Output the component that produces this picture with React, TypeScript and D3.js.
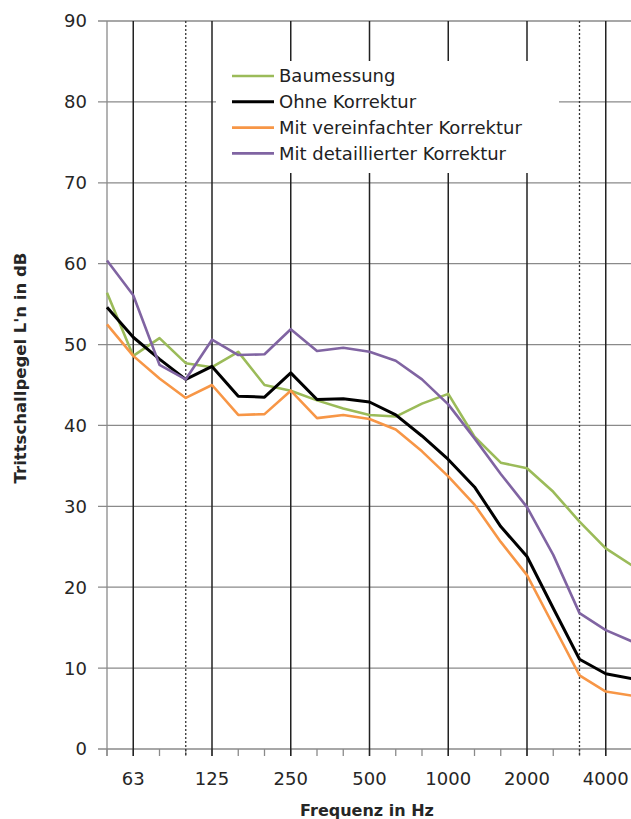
import React, { useEffect, useRef } from 'react';
import * as d3 from 'd3';

// third-octave bands
const freqs = ['50', '63', '80', '100', '125', '160', '200', '250', '315', '400', '500',
    '630', '800', '1000', '1250', '1600', '2000', '2500', '3150', '4000', '5000'];
const labelFreqs = ['63', '125', '250', '500', '1000', '2000', '4000'];
const dottedFreqs = ['100', '3150'];
const yTicks = [0, 10, 20, 30, 40, 50, 60, 70, 80, 90];

const baumessung = [56.4, 48.6, 50.8, 47.7, 47.2, 49.1, 45.0, 44.3, 43.1, 42.1, 41.3,
    41.1, 42.7, 43.9, 38.6, 35.4, 34.7, 31.8, 28.1, 24.8, 22.7];
const ohneKorrektur = [54.6, 50.9, 48.2, 45.7, 47.3, 43.6, 43.5, 46.5, 43.2, 43.3, 42.9,
    41.3, 38.7, 35.8, 32.4, 27.5, 23.8, 17.4, 11.1, 9.3, 8.7];
const vereinfacht = [52.5, 48.6, 45.8, 43.4, 45.0, 41.3, 41.4, 44.3, 40.9, 41.3, 40.8,
    39.5, 36.8, 33.7, 30.2, 25.6, 21.5, 15.3, 9.1, 7.1, 6.6];
const detailliert = [60.4, 56.1, 47.5, 45.7, 50.6, 48.7, 48.8, 51.9, 49.2, 49.6, 49.1,
    48.0, 45.7, 42.6, 38.4, 34.0, 29.9, 24.0, 16.8, 14.7, 13.3];

const seriesNames = ['Baumessung', 'Ohne Korrektur', 'Mit vereinfachter Korrektur', 'Mit detaillierter Korrektur'];
const seriesValues = [baumessung, ohneKorrektur, vereinfacht, detailliert];
const seriesColors = ['#9bbb59', '#000000', '#f79646', '#8064a2'];

const font = '"DejaVu Sans", sans-serif';

const App = () => {
    const svgRef = useRef<SVGSVGElement>(null);

    useEffect(() => {
        const svgWidth = 631;
        const svgHeight = 819;
        const left = 107, right = 632, top = 21, bottom = 749;

        const svg = d3.select(svgRef.current)
            .attr('width', svgWidth)
            .attr('height', svgHeight);
        svg.selectAll('*').remove();

        const x = d3.scalePoint<string>().domain(freqs).range([left, right]);
        const y = d3.scaleLinear().domain([0, 90]).range([bottom, top]);

        // horizontal gridlines + y ticks
        svg.append('g').selectAll('line')
            .data(yTicks)
            .enter()
            .append('line')
            .attr('x1', left - 9)
            .attr('x2', svgWidth)
            .attr('y1', d => y(d))
            .attr('y2', d => y(d))
            .attr('stroke', '#8a8a8a')
            .attr('stroke-width', 1.3);

        // bottom ticks
        svg.append('g').selectAll('line')
            .data(freqs)
            .enter()
            .append('line')
            .attr('x1', d => x(d)!)
            .attr('x2', d => x(d)!)
            .attr('y1', bottom)
            .attr('y2', bottom + 7)
            .attr('stroke', '#8a8a8a')
            .attr('stroke-width', 1.3);

        // left axis line
        svg.append('line')
            .attr('x1', left).attr('x2', left)
            .attr('y1', top).attr('y2', bottom + 7)
            .attr('stroke', '#8a8a8a')
            .attr('stroke-width', 1.3);

        // octave lines
        svg.append('g').selectAll('line')
            .data(labelFreqs)
            .enter()
            .append('line')
            .attr('x1', d => x(d)!)
            .attr('x2', d => x(d)!)
            .attr('y1', top)
            .attr('y2', bottom + 7)
            .attr('stroke', '#222')
            .attr('stroke-width', 1.5);

        svg.append('g').selectAll('line')
            .data(dottedFreqs)
            .enter()
            .append('line')
            .attr('x1', d => x(d)!)
            .attr('x2', d => x(d)!)
            .attr('y1', top)
            .attr('y2', bottom + 7)
            .attr('stroke', '#333')
            .attr('stroke-width', 1.3)
            .attr('stroke-dasharray', '2,2');

        // legend background hides gridlines
        svg.append('rect')
            .attr('x', 216).attr('y', 61)
            .attr('width', 343).attr('height', 112)
            .attr('fill', '#fff');

        // series
        const line = d3.line<number>()
            .x((_, i) => x(freqs[i])!)
            .y(d => y(d));

        svg.append('g').selectAll('path')
            .data(seriesValues)
            .enter()
            .append('path')
            .attr('d', d => line(d))
            .attr('fill', 'none')
            .attr('stroke', (_, i) => seriesColors[i])
            .attr('stroke-width', (_, i) => (i === 1 ? 3 : 2.6))
            .attr('stroke-linejoin', 'round');

        // legend
        const legend = svg.append('g').selectAll('g')
            .data(seriesNames)
            .enter()
            .append('g')
            .attr('transform', (_, i) => `translate(232, ${76 + i * 25.8})`);
        legend.append('line')
            .attr('x1', 0).attr('x2', 42)
            .attr('stroke', (_, i) => seriesColors[i])
            .attr('stroke-width', (_, i) => (i === 1 ? 3 : 2.6));
        legend.append('text')
            .attr('x', 47)
            .attr('dy', '0.36em')
            .attr('font-family', font)
            .attr('font-size', 18)
            .attr('fill', '#222')
            .text(d => d);

        // y labels
        svg.append('g').selectAll('text')
            .data(yTicks)
            .enter()
            .append('text')
            .attr('x', 87)
            .attr('y', d => y(d))
            .attr('dy', '0.36em')
            .attr('text-anchor', 'end')
            .attr('font-family', font)
            .attr('font-size', 18)
            .attr('fill', '#262626')
            .text(d => d);

        // x labels
        svg.append('g').selectAll('text')
            .data(labelFreqs)
            .enter()
            .append('text')
            .attr('x', d => x(d)!)
            .attr('y', 785)
            .attr('text-anchor', 'middle')
            .attr('font-family', font)
            .attr('font-size', 18)
            .attr('fill', '#262626')
            .text(d => d);

        // axis titles
        svg.append('text')
            .attr('x', 367)
            .attr('y', 816)
            .attr('text-anchor', 'middle')
            .attr('font-family', font)
            .attr('font-weight', 'bold')
            .attr('font-size', 16)
            .attr('fill', '#262626')
            .text('Frequenz in Hz');

        svg.append('text')
            .attr('transform', 'translate(26, 368) rotate(-90)')
            .attr('text-anchor', 'middle')
            .attr('font-family', font)
            .attr('font-weight', 'bold')
            .attr('font-size', 16.5)
            .attr('fill', '#262626')
            .text("Trittschallpegel L'n in dB");
    }, []);

    return (
        <svg ref={svgRef} style={{ position: 'absolute', left: 0, top: 0, display: 'block' }}></svg>
    );
};

export default App;
